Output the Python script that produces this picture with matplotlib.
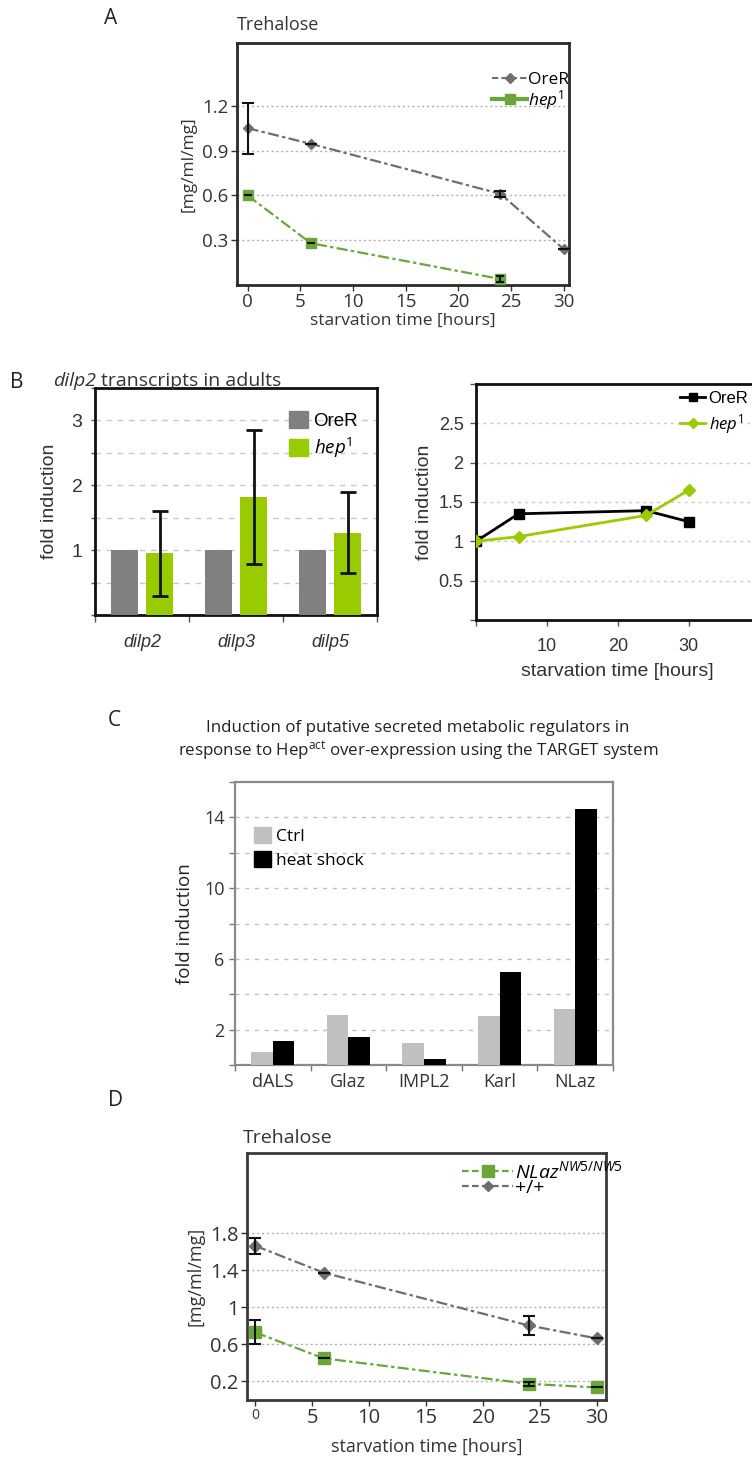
import matplotlib
matplotlib.use("Agg")
import matplotlib.pyplot as plt
import numpy as np
from matplotlib.lines import Line2D
from matplotlib.patches import Patch

plt.rcParams['font.family'] = ['Open Sans', 'DejaVu Sans']
plt.rcParams['mathtext.fontset'] = 'custom'
plt.rcParams['mathtext.rm'] = 'Open Sans'
plt.rcParams['mathtext.it'] = 'Open Sans:italic'
plt.rcParams['mathtext.bf'] = 'Open Sans:bold'

# ---------------- data ----------------
# Panel A: Trehalose
a_time = [0, 6, 24, 30]
a_orer = [1.05, 0.945, 0.61, 0.24]
a_orer_err = [0.17, 0, 0.02, 0]
a_hep_time = [0, 6, 24]
a_hep = [0.60, 0.28, 0.04]
a_hep_err = [0, 0, 0.02]

# Panel B left: dilp transcripts
b_genes = ['dilp2', 'dilp3', 'dilp5']
b_orer = [1.0, 1.0, 1.0]
b_hep = [0.95, 1.82, 1.27]
b_hep_err = [0.66, 1.04, 0.62]

# Panel B right: fold induction over starvation time
br_time = [0, 6, 24, 30]
br_orer = [1.0, 1.35, 1.39, 1.25]
br_hep = [1.0, 1.06, 1.33, 1.65]

# Panel C: secreted regulators
c_genes = ['dALS', 'Glaz', 'IMPL2', 'Karl', 'NLaz']
c_ctrl = [0.75, 2.8, 1.26, 2.78, 3.15]
c_hs = [1.33, 1.58, 0.34, 5.27, 14.5]

# Panel D: Trehalose NLaz
d_time = [0, 6, 24, 30]
d_nlaz = [0.73, 0.45, 0.175, 0.135]
d_nlaz_err = [0.13, 0, 0.02, 0]
d_wt = [1.665, 1.375, 0.805, 0.665]
d_wt_err = [0.085, 0, 0.105, 0]

W, H = 752, 1460
fig = plt.figure(figsize=(W / 100, H / 100), dpi=100)


def box(l, t, r, b):
    return [l / W, 1 - b / H, (r - l) / W, (b - t) / H]


def fx(px):
    return px / W


def fy(py):
    return 1 - py / H


GRAY_TXT = '#333333'
GREEN_A = '#6aa73a'
GREEN_B = '#99cc00'
GRAY_LINE = '#6e6e6e'
DASHDOT = (0, (5, 1.5, 1.5, 1.5))

# ================= Panel A =================
axA = fig.add_axes(box(237, 43, 569, 285))
axA.plot(a_time, a_orer, color=GRAY_LINE, lw=1.6, ls=DASHDOT,
         marker='D', ms=5.5, mfc=GRAY_LINE, mec=GRAY_LINE, zorder=3)
axA.errorbar(a_time, a_orer, yerr=a_orer_err, fmt='none', ecolor='#111111',
             elinewidth=1.5, capsize=4, capthick=1.5, zorder=4)
axA.plot(a_hep_time, a_hep, color=GREEN_A, lw=1.6, ls=DASHDOT,
         marker='s', ms=7, mfc=GREEN_A, mec=GREEN_A, zorder=3)
axA.errorbar(a_hep_time, a_hep, yerr=a_hep_err, fmt='none', ecolor='#111111',
             elinewidth=1.5, capsize=3, capthick=1.5, zorder=4)
axA.set_xlim(-1, 30.5)
axA.set_ylim(0, 1.62)
axA.set_yticks([0.3, 0.6, 0.9, 1.2])
axA.set_yticklabels(['0.3', '0.6', '0.9', '1.2'])
axA.set_xticks([0, 5, 10, 15, 20, 25, 30])
axA.yaxis.grid(True, ls=(0, (1.5, 2)), color='#b0b0b0', lw=1)
axA.set_axisbelow(True)
for s in axA.spines.values():
    s.set_linewidth(2)
    s.set_color('#2a2a2a')
axA.tick_params(labelsize=13.5, length=4, width=1, colors=GRAY_TXT, direction='out', pad=2)
axA.set_xlabel('starvation time [hours]', fontsize=12.5, color=GRAY_TXT, labelpad=1)
axA.set_ylabel('[mg/ml/mg]', fontsize=12.5, color=GRAY_TXT, labelpad=4)
hA = [Line2D([], [], color=GRAY_LINE, lw=1.5, ls=(0, (3, 1.5)), marker='D', ms=5),
      Line2D([], [], color=GREEN_A, lw=3, ls='-', marker='s', ms=7)]
axA.legend(hA, ['OreR', r'$hep^{1}$'], loc='upper right', frameon=False, fontsize=12.5,
           handlelength=2.0, handletextpad=0.05, labelspacing=0.0, borderpad=0,
           bbox_to_anchor=(1.0, 0.88), borderaxespad=0)
fig.text(fx(237), fy(25), 'Trehalose', fontsize=13, color=GRAY_TXT, va='center', ha='left')
fig.text(fx(104), fy(18), 'A', fontsize=15, color='#222222', va='center', ha='left')

# ================= Panel B left =================
plt.rcParams['font.family'] = ['Liberation Sans', 'DejaVu Sans']
axB = fig.add_axes(box(95, 388, 377, 615))
xb = np.arange(len(b_genes))
wb = 0.29
axB.bar(xb - 0.19, b_orer, width=wb, color='#808080', label='OreR', zorder=3)
axB.bar(xb + 0.19, b_hep, width=wb, color=GREEN_B, label='hep', zorder=3)
axB.errorbar(xb + 0.19, b_hep, yerr=b_hep_err, fmt='none', ecolor='#111111',
             elinewidth=2, capsize=6, capthick=2, zorder=4)
axB.set_xlim(-0.5, 2.5)
axB.set_ylim(0, 3.5)
yb_ticks = np.arange(0, 3.51, 0.5)
axB.set_yticks(yb_ticks)
axB.set_yticklabels(['' if (v % 1 or v == 0) else str(int(v)) for v in yb_ticks])
axB.yaxis.grid(True, ls=(0, (4, 4)), color='#c8c8c8', lw=1)
axB.set_axisbelow(True)
axB.set_xticks([-0.5, 0.5, 1.5, 2.5])
axB.set_xticklabels([])
axB.set_xticks(xb, minor=True)
axB.set_xticklabels(b_genes, minor=True, fontstyle='italic', fontsize=13, color=GRAY_TXT)
axB.tick_params(axis='x', which='minor', length=0, pad=14)
axB.tick_params(axis='x', which='major', length=5, width=1, colors='#555555')
axB.tick_params(axis='y', labelsize=14, length=3, width=1, colors='#555555', labelcolor=GRAY_TXT, pad=6)
for s in axB.spines.values():
    s.set_linewidth(2)
    s.set_color('#111111')
axB.set_ylabel('fold induction', fontsize=14, color=GRAY_TXT, labelpad=10)
hB = [Patch(color='#808080'), Patch(color=GREEN_B)]
axB.legend(hB, ['OreR', r'$\it{hep}^{1}$'], loc='upper right', frameon=False, fontsize=13.5,
           handlelength=1.0, handleheight=1.0, handletextpad=0.3, labelspacing=0.3,
           bbox_to_anchor=(0.96, 0.93), borderaxespad=0)

# title with italic gene name
plt.rcParams['font.family'] = ['Open Sans', 'DejaVu Sans']
t1 = fig.text(fx(53), fy(381), 'dilp2', fontsize=14, fontstyle='italic', color=GRAY_TXT,
              va='center', ha='left')
fig.canvas.draw()
bb = t1.get_window_extent(renderer=fig.canvas.get_renderer())
fig.text(bb.x1 / fig.bbox.width + 5 / W, fy(381), 'transcripts in adults', fontsize=14,
         color=GRAY_TXT, va='center', ha='left')
fig.text(fx(10), fy(383), 'B', fontsize=15, color='#222222', va='center', ha='left')

# ================= Panel B right =================
plt.rcParams['font.family'] = ['Liberation Sans', 'DejaVu Sans']
axR = fig.add_axes(box(476, 384, 759.6, 620))
axR.plot(br_time, br_orer, color='black', lw=2, marker='s', ms=7, zorder=3)
axR.plot(br_time, br_hep, color=GREEN_B, lw=2, marker='D', ms=6, zorder=3)
axR.set_xlim(0, 40)
axR.set_ylim(0, 3)
axR.set_yticks([0, 0.5, 1, 1.5, 2, 2.5, 3])
axR.set_yticklabels(['', '0.5', '1', '1.5', '2', '2.5', ''])
axR.set_xticks([0, 10, 20, 30, 40])
axR.set_xticklabels(['', '10', '20', '30', ''])
axR.yaxis.grid(True, ls=(0, (2, 3)), color='#c8c8c8', lw=1)
ygr = axR.get_ygridlines()
ygr[0].set_visible(False)
ygr[-1].set_visible(False)
axR.set_axisbelow(True)
for s in axR.spines.values():
    s.set_linewidth(2)
    s.set_color('#111111')
axR.tick_params(labelsize=13, length=4, width=1, colors='#555555', labelcolor=GRAY_TXT, pad=5)
axR.tick_params(axis='x', pad=9)
axR.set_xlabel('starvation time [hours]', fontsize=14, color=GRAY_TXT, labelpad=6)
axR.set_ylabel('fold induction', fontsize=14, color=GRAY_TXT, labelpad=4)
hR = [Line2D([], [], color='black', lw=2, marker='s', ms=6),
      Line2D([], [], color=GREEN_B, lw=2, marker='D', ms=5)]
axR.legend(hR, ['OreR', r'$\it{hep}^{1}$'], loc='upper left', frameon=False, fontsize=12,
           handlelength=1.5, handletextpad=0.2, labelspacing=0.35, borderpad=0,
           bbox_to_anchor=(0.72, 0.97), borderaxespad=0)

# ================= Panel C =================
plt.rcParams['font.family'] = ['Open Sans', 'DejaVu Sans']
axC = fig.add_axes(box(235, 782, 613, 1065))
xc = np.arange(len(c_genes))
wc = 0.286
axC.bar(xc - 0.143, c_ctrl, width=wc, color='#c0c0c0', zorder=3)
axC.bar(xc + 0.143, c_hs, width=wc, color='#000000', zorder=3)
axC.set_xlim(-0.5, 4.5)
axC.set_ylim(0, 16)
axC.set_yticks(np.arange(0, 16.1, 2))
axC.set_yticklabels(['', '2', '', '6', '', '10', '', '14', ''])
axC.yaxis.grid(True, ls=(0, (3, 4)), color='#c0c0c0', lw=1)
cg = axC.get_ygridlines()
cg[0].set_visible(False)
cg[-1].set_visible(False)
axC.set_axisbelow(True)
axC.set_xticks(np.arange(-0.5, 4.6, 1))
axC.set_xticklabels([])
axC.set_xticks(xc, minor=True)
axC.set_xticklabels(c_genes, minor=True, fontsize=13, color=GRAY_TXT)
axC.tick_params(axis='x', which='minor', length=0, pad=6)
axC.tick_params(axis='x', which='major', length=4, width=1, colors='#777777')
axC.tick_params(axis='y', labelsize=13, length=4, width=1, colors='#777777', labelcolor=GRAY_TXT)
for s in axC.spines.values():
    s.set_linewidth(1.6)
    s.set_color('#8a8a8a')
axC.set_ylabel('fold induction', fontsize=13.5, color='#222222', labelpad=7)
hC = [Patch(color='#c0c0c0'), Patch(color='#000000')]
axC.legend(hC, ['Ctrl', 'heat shock'], loc='upper left', frameon=False, fontsize=12.5,
           handlelength=1.0, handleheight=1.0, handletextpad=0.3, labelspacing=0.35, borderpad=0,
           bbox_to_anchor=(0.05, 0.84), borderaxespad=0)
fig.text(fx(418), fy(728), 'Induction of putative secreted metabolic regulators in',
         fontsize=12.2, color='#222222', ha='center', va='center')
fig.text(fx(418), fy(751), r'response to Hep$^{\mathrm{act}}$ over-expression using the TARGET system',
         fontsize=12.2, color='#222222', ha='center', va='center')
fig.text(fx(108), fy(720), 'C', fontsize=15, color='#222222', va='center', ha='left')

# ================= Panel D =================
axD = fig.add_axes(box(246.7, 1152.7, 606, 1400))
axD.plot(d_time, d_wt, color=GRAY_LINE, lw=1.6, ls=DASHDOT,
         marker='D', ms=6, mfc=GRAY_LINE, mec=GRAY_LINE, zorder=3)
axD.errorbar(d_time, d_wt, yerr=d_wt_err, fmt='none', ecolor='#111111',
             elinewidth=1.5, capsize=4, capthick=1.5, zorder=4)
axD.plot(d_time, d_nlaz, color=GREEN_A, lw=1.6, ls=DASHDOT,
         marker='s', ms=8, mfc=GREEN_A, mec=GREEN_A, zorder=3)
axD.errorbar(d_time, d_nlaz, yerr=d_nlaz_err, fmt='none', ecolor='#111111',
             elinewidth=1.5, capsize=4, capthick=1.5, zorder=4)
axD.set_xlim(-0.75, 30.8)
axD.set_ylim(0, 2.67)
axD.set_yticks([0.2, 0.6, 1.0, 1.4, 1.8])
axD.set_yticklabels(['0.2', '0.6', '1', '1.4', '1.8'])
axD.set_xticks([0, 5, 10, 15, 20, 25, 30])
axD.yaxis.grid(True, ls=(0, (1.5, 2)), color='#b0b0b0', lw=1)
axD.set_axisbelow(True)
for s in axD.spines.values():
    s.set_linewidth(2)
    s.set_color('#3a3a3a')
axD.tick_params(labelsize=14.5, length=4, width=1, colors=GRAY_TXT, direction='out', pad=2)
axD.get_xticklabels()[0].set_fontsize(10)
axD.set_xlabel('starvation time [hours]', fontsize=13, color=GRAY_TXT, labelpad=7)
axD.set_ylabel('[mg/ml/mg]', fontsize=13, color=GRAY_TXT, labelpad=4)
hD = [Line2D([], [], color=GREEN_A, lw=1.6, ls=(0, (3, 1.5)), marker='s', ms=8),
      Line2D([], [], color=GRAY_LINE, lw=1.6, ls=(0, (3, 1.5)), marker='D', ms=5)]
axD.legend(hD, [r'$NLaz^{NW5/NW5}$', '+/+'], loc='upper left', frameon=False, fontsize=14,
           handlelength=2.6, handletextpad=0.1, labelspacing=-0.15, borderpad=0,
           bbox_to_anchor=(0.6, 0.97), borderaxespad=0)
fig.text(fx(243), fy(1138), 'Trehalose', fontsize=14, color=GRAY_TXT, va='center', ha='left')
fig.text(fx(108), fy(1100), 'D', fontsize=15, color='#222222', va='center', ha='left')

fig.savefig('out.png', dpi=100, facecolor='white')
